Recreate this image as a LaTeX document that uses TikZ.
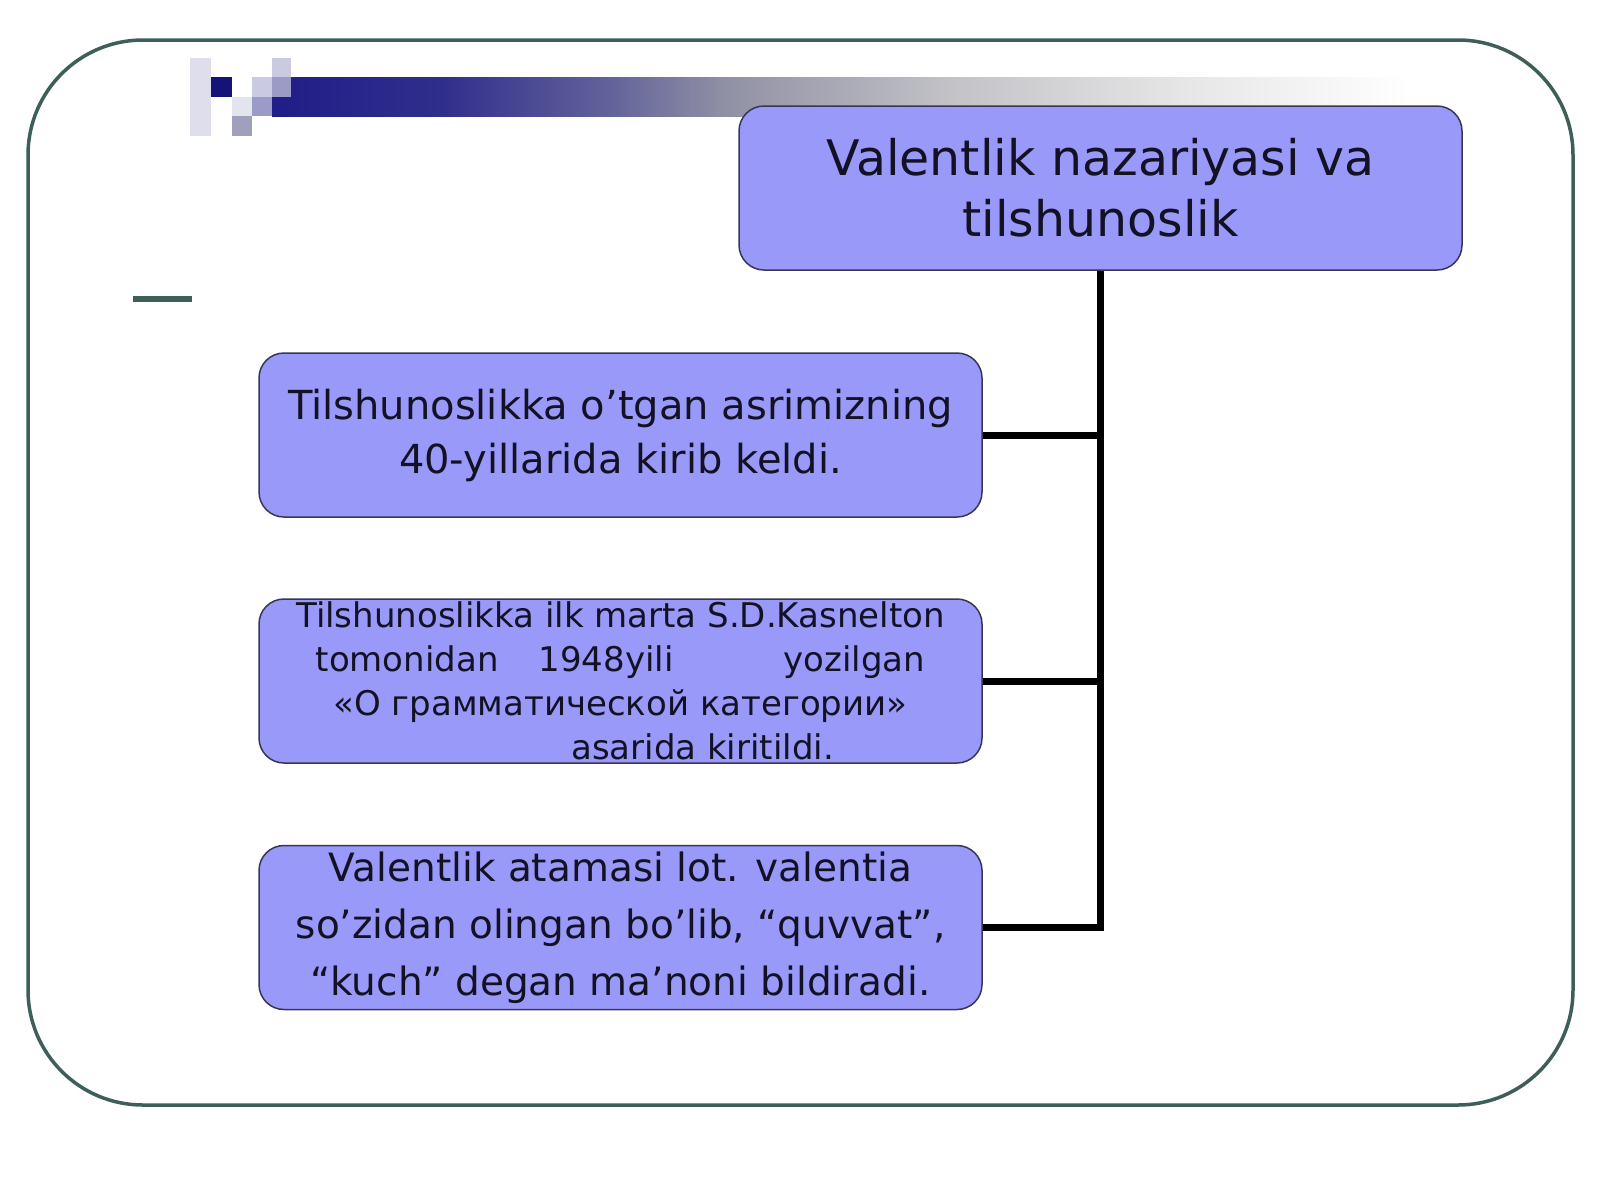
\documentclass[tikz,border=0pt]{standalone}
\usepackage{fontspec}
\setmainfont{DejaVu Sans}
\definecolor{framecol}{RGB}{62,94,90}
\definecolor{boxfill}{RGB}{153,153,250}
\definecolor{boxline}{RGB}{55,55,85}
\definecolor{txtcol}{RGB}{18,18,36}
\definecolor{navy}{RGB}{20,20,120}
\definecolor{barA}{RGB}{32,30,135}
\definecolor{barB}{RGB}{48,46,140}
\definecolor{barC}{RGB}{100,100,155}
\definecolor{barD}{RGB}{145,145,165}
\definecolor{barE}{RGB}{195,195,200}
\definecolor{barF}{RGB}{230,230,230}
\definecolor{sqpale}{RGB}{222,222,236}
\definecolor{sqlight}{RGB}{202,202,226}
\definecolor{sqmed}{RGB}{155,155,200}
\definecolor{sqvlight}{RGB}{228,228,238}
\definecolor{sqgrey}{RGB}{160,160,188}
\pgfdeclarehorizontalshading{barshade}{100bp}{color(0bp)=(barA); color(25bp)=(barA); color(32.5bp)=(barB); color(40bp)=(barC); color(45bp)=(barD); color(55bp)=(barE); color(65bp)=(barF); color(75bp)=(white); color(100bp)=(white)}
\begin{document}
\begin{tikzpicture}[x=0.5pt,y=-0.5pt,
  box/.style={draw=boxline, line width=0.75pt, fill=boxfill, rounded corners=12.5pt,
    minimum width=361.5pt, minimum height=82pt, inner sep=0pt, text=txtcol, align=center},
  conn/.style={draw=black, line width=3.5pt},
  frame/.style={draw=framecol, line width=1.75pt, rounded corners=57.5pt}]
\useasboundingbox (0,0) rectangle (1600,1200);
\fill[white] (0,0) rectangle (1600,1200);
% frame
\draw[frame] (28,40) rectangle (1573,1105);
% logo
\shade[shading=barshade] (272,77) rectangle (1410,116);
\fill[sqpale] (190,58) rectangle (211,136);
\fill[navy] (211,77) rectangle (232,97);
\fill[sqlight] (252,77) rectangle (272,97);
\fill[sqmed] (272,77) rectangle (291,97);
\fill[sqlight] (272,58) rectangle (291,77);
\fill[sqvlight] (232,97) rectangle (252,116);
\fill[sqmed] (252,97) rectangle (272,116);
\fill[sqgrey] (232,116) rectangle (252,136);
% dash
\fill[framecol] (133,296) rectangle (192,302);
% nodes
\node[box, minimum height=82pt, font=\fontsize{24.5}{30.5}\selectfont] (top) at (1100.5,188)
  {Valentlik nazariyasi va\\tilshunoslik};
\node[box, font=\fontsize{20}{27}\selectfont] (b1) at (620.5,435)
  {Tilshunoslikka o’tgan asrimizning\\40-yillarida kirib keldi.};
\node[box, font=\fontsize{17}{22}\selectfont] (b2) at (620.5,681)
  {Tilshunoslikka ilk marta S.D.Kasnelton\\
   tomonidan\hspace{20pt}1948yili\hspace{55pt}yozilgan\\
   «О грамматической категории»\\
   \hspace*{82pt}asarida kiritildi.};
\node[box, font=\fontsize{19.5}{28.5}\selectfont] (b3) at (620.5,927.5)
  {Valentlik atamasi lot. valentia\\so’zidan olingan bo’lib, “quvvat”,\\“kuch” degan ma’noni bildiradi.};
% connectors
\draw[conn] (top.south) -- (top.south |- b3.east) -- (b3.east);
\draw[conn] (b1.east) -- (b1.east -| top.south);
\draw[conn] (b2.east) -- (b2.east -| top.south);
\end{tikzpicture}
\end{document}
